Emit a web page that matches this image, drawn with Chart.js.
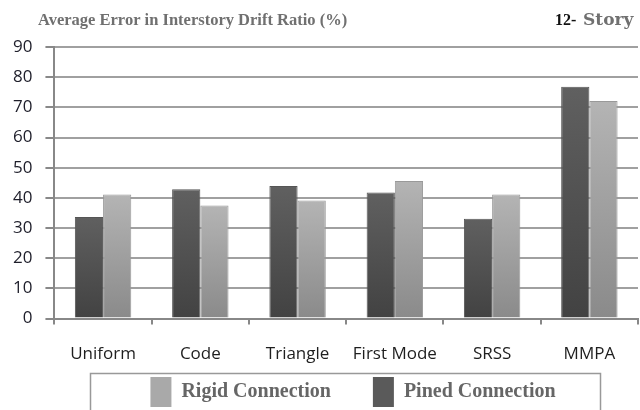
<!DOCTYPE html>
<html>
<head>
<meta charset="utf-8">
<script src="https://cdn.jsdelivr.net/npm/chart.js@4.4.0/dist/chart.umd.min.js"></script>
<style>
  html, body { margin: 0; padding: 0; background: #fff; }
  #wrap { width: 640px; height: 410px; }
</style>
</head>
<body>
<div id="wrap"><canvas id="chart" width="640" height="410"></canvas></div>
<script>
// categories and values
var categories = ["Uniform", "Code", "Triangle", "First Mode", "SRSS", "MMPA"];
var pinedVals = [33.7, 42.9, 43.9, 41.8, 33.1, 76.8];
var rigidVals = [41.1, 37.5, 39.1, 45.6, 41.1, 72.1];
var yTicks = [0, 10, 20, 30, 40, 50, 60, 70, 80, 90];

var titleText = "Average Error in Interstory Drift Ratio (%)";
var storyNum = "12-";
var storyWord = "Story";

var pinedTop = "#606060", pinedBottom = "#424242";
var rigidTop = "#b4b4b4", rigidBottom = "#8a8a8a";

// per bar vertical gradient, like the old office charts
function barFill(top, bottom) {
    return function(c) {
        var chart = c.chart;
        var area = chart.chartArea;
        if (!area || c.type !== "data") return top;
        var y = chart.scales.y;
        var y0 = y.getPixelForValue(c.raw);
        var y1 = y.getPixelForValue(0);
        var g = chart.ctx.createLinearGradient(0, y0, 0, y1);
        g.addColorStop(0, top);
        g.addColorStop(1, bottom);
        return g;
    };
}

// titles + the frame round the legend
var extras = {
    id: "extras",
    afterLayout: function(chart) {
        // legend sits lower and a bit right of center in the original
        var lg = chart.legend;
        var pad = lg.options.labels.padding;
        var dx = 34;
        lg.top = 377 - pad;
        lg.bottom = 420;
        lg.left += dx; lg.right += dx;
    },
    afterDraw: function(chart) {
        var ctx = chart.ctx;
        ctx.save();
        ctx.textBaseline = "alphabetic";
        ctx.textAlign = "left";
        ctx.fillStyle = "#707070";
        ctx.font = "bold 16.5px 'Liberation Serif'";
        ctx.fillText(titleText, 38, 25);
        ctx.fillStyle = "#111";
        ctx.font = "bold 16px 'Liberation Serif'";
        ctx.fillText(storyNum, 555, 25);
        ctx.fillStyle = "#707070";
        ctx.font = "bold 17px 'DejaVu Serif'";
        ctx.fillText(storyWord, 583, 25);

        // legend frame
        ctx.strokeStyle = "#999";
        ctx.lineWidth = 1.5;
        ctx.strokeRect(90.5, 373.5, 510, 60);
        ctx.restore();
    }
};

var ctx = document.getElementById("chart").getContext("2d");
var chart = new Chart(ctx, {
    type: "bar",
    data: {
        labels: categories,
        datasets: [
            {
                label: "Pined Connection",
                data: pinedVals,
                backgroundColor: barFill(pinedTop, pinedBottom),
                borderColor: "#555",
                borderWidth: 1
            },
            {
                label: "Rigid Connection",
                data: rigidVals,
                backgroundColor: barFill(rigidTop, rigidBottom),
                borderColor: "#999",
                borderWidth: 1
            }
        ]
    },
    options: {
        responsive: false,
        animation: false,
        layout: { padding: { top: 47, left: 0, right: 2, bottom: 0 } },
        datasets: {
            bar: { categoryPercentage: 0.58, barPercentage: 1.0 }
        },
        scales: {
            x: {
                grid: {
                    offset: true,
                    drawOnChartArea: true,
                    color: function(c) { return c.index === categories.length ? "#888" : "rgba(0,0,0,0)"; },
                    tickColor: "#888",
                    tickLength: 6,
                    lineWidth: 2
                },
                border: { color: "#888", width: 2 },
                ticks: {
                    color: "#1e1e1e",
                    padding: 19,
                    font: { family: "'Open Sans'", size: 17 }
                }
            },
            y: {
                min: 0,
                max: 90,
                afterBuildTicks: function(axis) {
                    axis.ticks = yTicks.map(function(v) { return { value: v }; });
                },
                grid: {
                    color: "#a0a0a0",
                    tickColor: "#888",
                    tickLength: 9,
                    lineWidth: 2
                },
                border: { color: "#888", width: 2 },
                ticks: {
                    color: "#1e1e2a",
                    padding: 13,
                    font: { family: "'Open Sans'", size: 17 }
                }
            }
        },
        plugins: {
            title: { display: false },
            tooltip: { enabled: false },
            legend: {
                position: "bottom",
                reverse: true,
                maxHeight: 27,
                labels: {
                    boxWidth: 21,
                    boxHeight: 30,
                    padding: 42,
                    color: "#666",
                    font: { family: "'Liberation Serif'", size: 20, weight: "bold" },
                    generateLabels: function(chart) {
                        var swatch = ["#5a5a5a", "#a9a9a9"];
                        return chart.data.datasets.map(function(ds, i) {
                            return {
                                text: ds.label,
                                fillStyle: swatch[i],
                                strokeStyle: swatch[i],
                                lineWidth: 0,
                                fontColor: "#666",
                                hidden: false,
                                datasetIndex: i
                            };
                        });
                    }
                }
            }
        }
    },
    plugins: [extras]
});
</script>
</body>
</html>
